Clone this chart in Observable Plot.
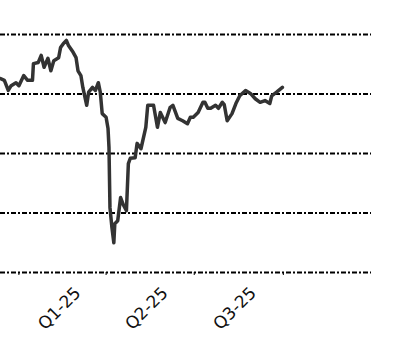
<!DOCTYPE html>
<html>
<head>
<meta charset="utf-8">
<script src="https://cdn.jsdelivr.net/npm/d3@7"></script>
<script src="https://cdn.jsdelivr.net/npm/@observablehq/plot@0.6"></script>
<style>
  html, body { margin: 0; padding: 0; background: #fff; }
  #chart svg { display: block; }
</style>
</head>
<body>
<div id="chart"></div>
<script>
const dates = [
  "2024-12-13","2024-12-17","2024-12-21","2024-12-24","2024-12-29","2025-01-01",
  "2025-01-06","2025-01-10","2025-01-15","2025-01-16","2025-01-21","2025-01-24",
  "2025-01-27","2025-01-31","2025-02-03","2025-02-06","2025-02-11","2025-02-13",
  "2025-02-16","2025-02-19","2025-02-21","2025-02-26","2025-03-01","2025-03-03",
  "2025-03-06","2025-03-08","2025-03-12","2025-03-14","2025-03-18","2025-03-21",
  "2025-03-24","2025-03-26","2025-03-28","2025-04-01","2025-04-03","2025-04-04",
  "2025-04-05","2025-04-07","2025-04-09","2025-04-10","2025-04-13","2025-04-16",
  "2025-04-19","2025-04-22","2025-04-24","2025-04-26","2025-05-01","2025-05-03",
  "2025-05-07","2025-05-12","2025-05-14","2025-05-20","2025-05-24","2025-05-27",
  "2025-06-01","2025-06-06","2025-06-09","2025-06-14","2025-06-19","2025-06-24",
  "2025-06-27","2025-06-30","2025-07-05","2025-07-10","2025-07-12","2025-07-15",
  "2025-07-18","2025-07-23","2025-07-26","2025-07-30","2025-08-01","2025-08-04",
  "2025-08-09","2025-08-13","2025-08-17","2025-08-23","2025-08-28","2025-09-02",
  "2025-09-07","2025-09-12","2025-09-17","2025-09-19","2025-09-24","2025-09-30"
];
const values = [
  112.6,112.3,110.6,111.4,111.9,111.4,
  113.1,112.3,112.3,115.1,115.3,116.5,
  114.5,116.0,113.9,115.6,116.1,117.8,
  118.5,119.0,118.2,117.0,116.1,113.9,
  113.1,111.1,108.1,110.3,111.1,110.6,
  111.9,110.3,106.7,106.1,104.2,101.0,
  90.9,87.6,85.0,88.2,88.7,92.6,
  91.3,90.4,98.3,99.2,99.3,101.7,
  100.8,104.4,108.1,108.1,104.4,106.9,
  105.2,107.7,108.1,105.9,105.5,105.0,
  106.1,106.1,106.9,108.6,108.6,107.6,
  107.6,108.1,107.6,108.6,108.2,105.5,
  106.7,108.4,109.7,110.6,110.1,109.2,
  108.6,108.9,108.4,109.7,110.3,111.1
];
const gridValues = [80, 90, 100, 110, 120];
const quarterStarts = ["2025-01-01","2025-04-01","2025-07-01","2025-10-01"];
const quarterLabels = ["Q1-25","Q2-25","Q3-25"];
const quarterMids = ["2025-02-15","2025-05-16","2025-08-15"];
const xDomain = ["2024-12-13","2025-12-31"];

const parse = d3.utcParse("%Y-%m-%d");
const series = dates.map((d, i) => ({date: parse(d), value: values[i]}));
const labels = quarterLabels.map((t, i) => ({date: parse(quarterMids[i]), text: t, y: 80}));

const chart = Plot.plot({
  width: 416,
  height: 353,
  marginLeft: 0,
  marginRight: 45,
  marginTop: 34,
  marginBottom: 81,
  style: {fontFamily: "DejaVu Sans", background: "#fff"},
  x: {type: "utc", domain: xDomain.map(parse)},
  y: {domain: [80, 120]},
  marks: [
    Plot.ruleY(gridValues, {stroke: "#000", strokeWidth: 2, strokeDasharray: "5,2,2,2"}),
    Plot.axisX({ticks: quarterStarts.map(parse), tickSize: 3, tickFormat: () => "", stroke: "#000", strokeWidth: 1}),
    Plot.axisY({ticks: [], label: null}),
    Plot.line(series, {x: "date", y: "value", stroke: "#333", strokeWidth: 3.5, strokeLinejoin: "round"}),
    Plot.text(labels, {x: "date", y: "y", text: "text", dy: 36, dx: -3, rotate: -45, fontSize: 17, fill: "#111", textAnchor: "middle", lineAnchor: "middle"})
  ]
});
document.getElementById("chart").appendChild(chart);
</script>
</body>
</html>
